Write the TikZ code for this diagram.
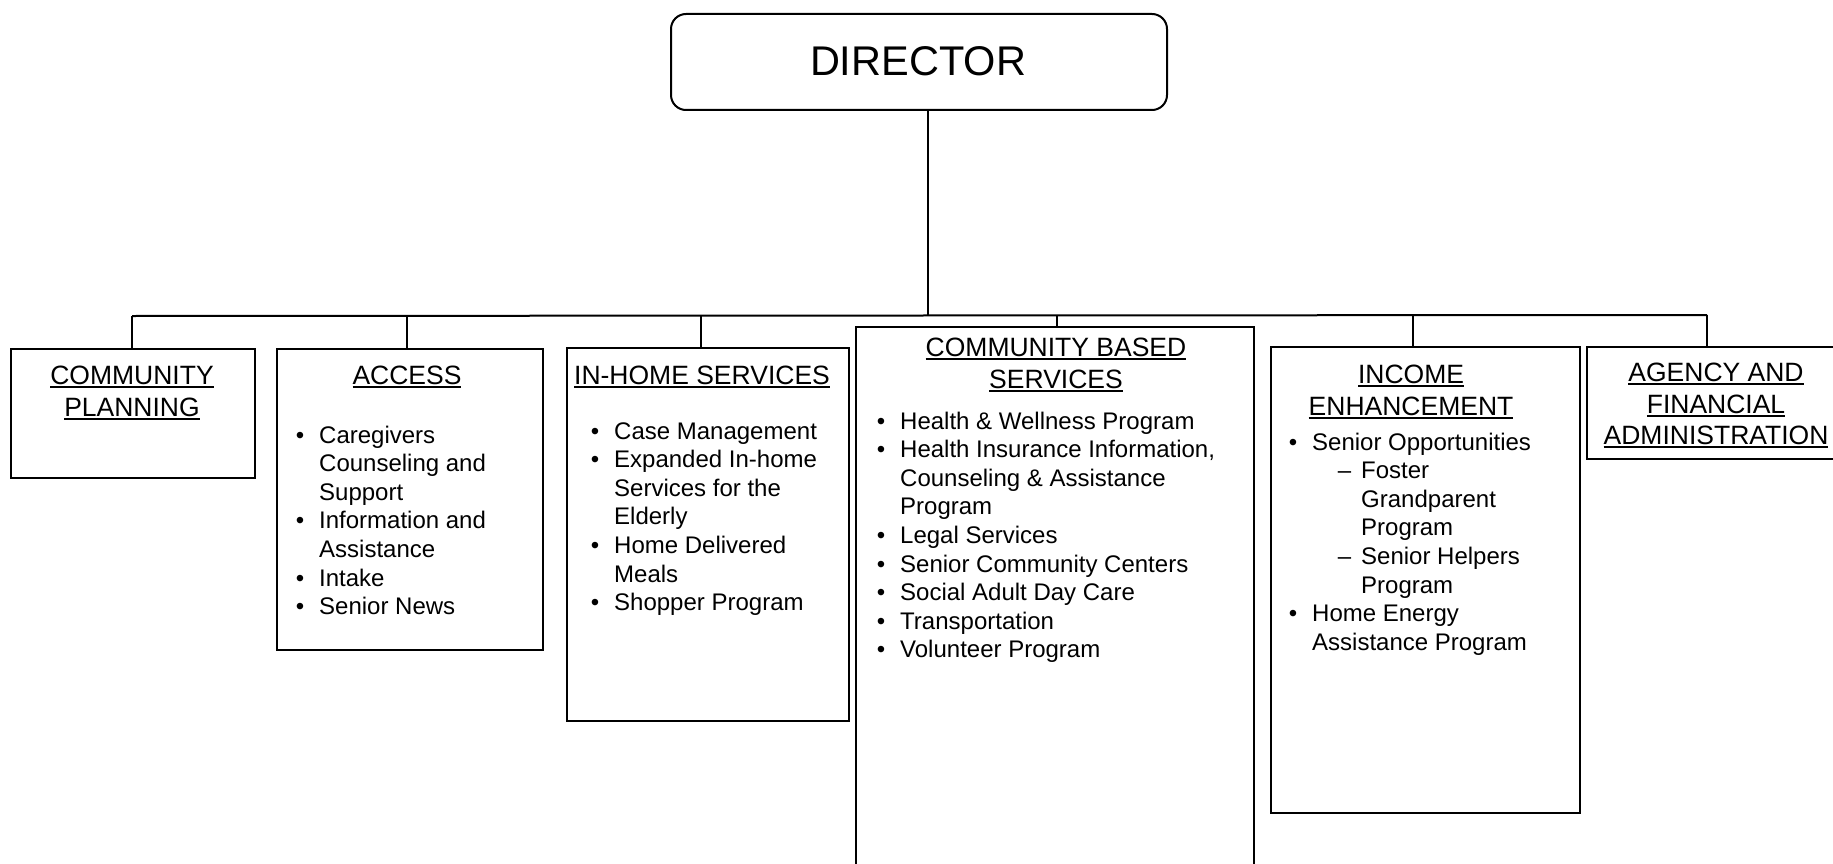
\documentclass[tikz,border=0pt]{standalone}
\usepackage{fontspec}
\setmainfont{Liberation Sans}
\newlength\hdw
\newcommand\hdul[1]{\settowidth\hdw{#1}\rlap{#1}\rule[-3.5pt]{\hdw}{1.8pt}}
\newcommand\bl[1]{\llap{\textbullet\hspace{15pt}}#1}
\newcommand\sbi[1]{\hspace*{49pt}\llap{\textendash\hspace{10pt}}#1}
\newcommand\sbc[1]{\hspace*{49pt}#1}
\tikzset{
  box/.style={draw, line width=2pt, anchor=north west, inner sep=0pt},
  hdr/.style={font=\fontsize{26.5}{31.5}\selectfont, anchor=base, inner sep=0pt},
  lst/.style={font=\fontsize{24}{28.6}\selectfont, anchor=base west, inner sep=0pt},
  conn/.style={line width=2pt}
}
\begin{document}
\begin{tikzpicture}[x=1pt,y=-1pt]
\useasboundingbox (0,0) rectangle (1833,864);
\fill[white] (0,0) rectangle (1833,864);

% director
\node[draw, line width=2pt, rounded corners=15pt, anchor=north west, inner sep=0pt,
      minimum width=496pt, minimum height=96pt] (dir) at (670,13) {};
\node[font=\fontsize{41.5}{50}\selectfont, anchor=base, inner sep=0pt] (dirt) at (918,76) {DIRECTOR};

% boxes
\node[box, minimum width=244pt, minimum height=129pt] (cp) at (10,348) {};
\node[box, minimum width=266pt, minimum height=301pt] (acc) at (276,348) {};
\node[box, minimum width=282pt, minimum height=373pt] (ih) at (566,347) {};
\node[box, minimum width=398pt, minimum height=560pt] (cbs) at (855,326) {};
\node[box, minimum width=309pt, minimum height=466pt] (ie) at (1270,346) {};
\node[box, minimum width=270pt, minimum height=112pt] (afa) at (1586,346) {};

% connectors
\coordinate (j) at (928,316);
\coordinate (cpt) at (132,316);
\coordinate (acct) at (407,316);
\coordinate (iht) at (701,316);
\coordinate (cbst) at (1057,316);
\coordinate (iet) at (1413,315);
\coordinate (afat) at (1707,315);
\draw[conn] (dir.south -| j) -- (j);
\draw[conn] (cpt) -- (afat);
\draw[conn] (cpt) -- (cpt |- cp.north);
\draw[conn] (acct) -- (acct |- acc.north);
\draw[conn] (iht) -- (iht |- ih.north);
\draw[conn] (cbst) -- (cbst |- cbs.north);
\draw[conn] (iet) -- (iet |- ie.north);
\draw[conn] (afat) -- (afat |- afa.north);

% headers
\node[hdr] (cph) at (132,384.5) {\begin{tabular}[t]{@{}c@{}}\hdul{COMMUNITY}\\\hdul{PLANNING}\end{tabular}};
\node[hdr] (acch) at (407,384.5) {\begin{tabular}[t]{@{}c@{}}\hdul{ACCESS}\end{tabular}};
\node[hdr] (ihh) at (702,384.5) {\begin{tabular}[t]{@{}c@{}}\hdul{IN-HOME SERVICES}\end{tabular}};
\node[hdr] (cbsh) at (1056,356.5) {\begin{tabular}[t]{@{}c@{}}\hdul{COMMUNITY BASED}\\\hdul{SERVICES}\end{tabular}};
\node[hdr] (ieh) at (1411,383.5) {\begin{tabular}[t]{@{}c@{}}\hdul{INCOME}\\\hdul{ENHANCEMENT}\end{tabular}};
\node[hdr] (afah) at (1716,381.5) {\begin{tabular}[t]{@{}c@{}}\hdul{AGENCY AND}\\\hdul{FINANCIAL}\\\hdul{ADMINISTRATION}\end{tabular}};

% lists
\node[lst] (accl) at (319,443) {\begin{tabular}[t]{@{}l@{}}
\bl{Caregivers}\\
Counseling and\\
Support\\
\bl{Information and}\\
Assistance\\
\bl{Intake}\\
\bl{Senior News}
\end{tabular}};
\node[lst] (ihl) at (614,439) {\begin{tabular}[t]{@{}l@{}}
\bl{Case Management}\\
\bl{Expanded In-home}\\
Services for the\\
Elderly\\
\bl{Home Delivered}\\
Meals\\
\bl{Shopper Program}
\end{tabular}};
\node[lst] (cbsl) at (900,429) {\begin{tabular}[t]{@{}l@{}}
\bl{Health \& Wellness Program}\\
\bl{Health Insurance Information,}\\
Counseling \& Assistance\\
Program\\
\bl{Legal Services}\\
\bl{Senior Community Centers}\\
\bl{Social Adult Day Care}\\
\bl{Transportation}\\
\bl{Volunteer Program}
\end{tabular}};
\node[lst] (iel) at (1312,450) {\begin{tabular}[t]{@{}l@{}}
\bl{Senior Opportunities}\\
\sbi{Foster}\\
\sbc{Grandparent}\\
\sbc{Program}\\
\sbi{Senior Helpers}\\
\sbc{Program}\\
\bl{Home Energy}\\
Assistance Program
\end{tabular}};
\end{tikzpicture}
\end{document}
